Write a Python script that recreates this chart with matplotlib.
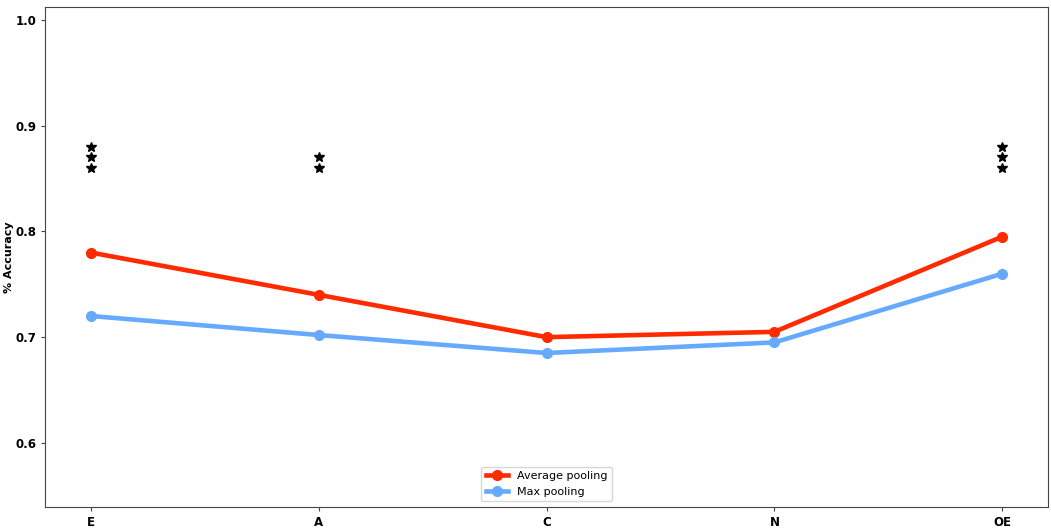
import matplotlib.pyplot as plt
import numpy as np

# traits and accuracies
traits = ['E', 'A', 'C', 'N', 'OE']
avg_pool = [0.78, 0.74, 0.70, 0.705, 0.795]
max_pool = [0.72, 0.702, 0.685, 0.695, 0.76]

# significance stars (x index, y levels)
star_x = [0, 0, 0, 1, 1, 4, 4, 4]
star_y = [0.88, 0.87, 0.86, 0.87, 0.86, 0.88, 0.87, 0.86]

fig, ax = plt.subplots(figsize=(10.51, 5.28), dpi=100)
fig.subplots_adjust(left=0.043, right=0.997, top=0.987, bottom=0.04)

x = np.arange(len(traits))
ax.plot(x, avg_pool, '-o', color='#ff2a00', linewidth=3.3, markersize=7, label='Average pooling')
ax.plot(x, max_pool, '-o', color='#66aaff', linewidth=3.3, markersize=7, label='Max pooling')
ax.plot(star_x, star_y, 'k*', markersize=7, linestyle='none')

ax.set_xlim(-0.2, 4.2)
ax.set_ylim(0.5395, 1.0123)
ax.set_xticks(x)
ax.set_xticklabels(traits, fontweight='bold', fontsize=8.5)
ax.set_yticks([0.6, 0.7, 0.8, 0.9, 1.0])
ax.set_yticklabels(['0.6', '0.7', '0.8', '0.9', '1.0'], fontweight='bold', fontsize=8.5)
ax.tick_params(length=3, color='#444444')
for s in ax.spines.values():
    s.set_color('#444444')
ax.set_ylabel('% Accuracy', fontweight='bold', fontsize=8, labelpad=1)

ax.legend(loc='lower center', fontsize=8)

plt.savefig('out.png', dpi=100)
